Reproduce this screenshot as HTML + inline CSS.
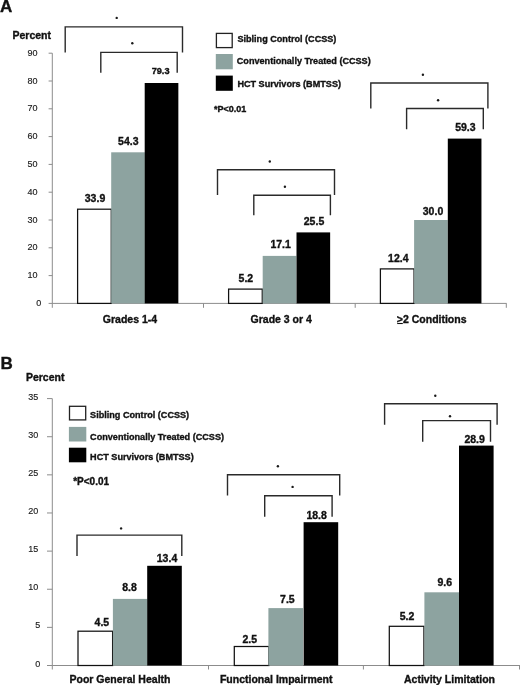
<!DOCTYPE html>
<html><head><meta charset="utf-8"><title>Chart</title>
<style>
html,body{margin:0;padding:0;background:#fff;}
body{width:520px;height:685px;overflow:hidden;}
svg{display:block;font-family:"Liberation Sans",sans-serif;will-change:transform;}
</style></head>
<body>
<svg width="520" height="685" viewBox="0 0 520 685">
<rect x="0" y="0" width="520" height="685" fill="#fff"/>
<text x="0.0" y="11.8" font-size="17" font-weight="bold" text-anchor="start" fill="#111" stroke="#111" stroke-width="0.35">A</text>
<text x="12.5" y="39.3" font-size="10.5" font-weight="bold" text-anchor="start" fill="#111" stroke="#111" stroke-width="0.35">Percent</text>
<line x1="52.3" y1="53.2" x2="52.3" y2="307.8" stroke="#8c8c8c" stroke-width="1.0"/>
<line x1="48.6" y1="303.4" x2="52.3" y2="303.4" stroke="#8c8c8c" stroke-width="1.0"/>
<text x="41.2" y="306.0" font-size="9" font-weight="normal" text-anchor="end" fill="#222" stroke="#222" stroke-width="0.15">0</text>
<line x1="48.6" y1="275.6" x2="52.3" y2="275.6" stroke="#8c8c8c" stroke-width="1.0"/>
<text x="37.5" y="278.2" font-size="9" font-weight="normal" text-anchor="end" fill="#222" stroke="#222" stroke-width="0.15">10</text>
<line x1="48.6" y1="247.8" x2="52.3" y2="247.8" stroke="#8c8c8c" stroke-width="1.0"/>
<text x="37.5" y="250.4" font-size="9" font-weight="normal" text-anchor="end" fill="#222" stroke="#222" stroke-width="0.15">20</text>
<line x1="48.6" y1="220.0" x2="52.3" y2="220.0" stroke="#8c8c8c" stroke-width="1.0"/>
<text x="37.5" y="222.6" font-size="9" font-weight="normal" text-anchor="end" fill="#222" stroke="#222" stroke-width="0.15">30</text>
<line x1="48.6" y1="192.2" x2="52.3" y2="192.2" stroke="#8c8c8c" stroke-width="1.0"/>
<text x="37.5" y="194.8" font-size="9" font-weight="normal" text-anchor="end" fill="#222" stroke="#222" stroke-width="0.15">40</text>
<line x1="48.6" y1="164.4" x2="52.3" y2="164.4" stroke="#8c8c8c" stroke-width="1.0"/>
<text x="37.5" y="167.0" font-size="9" font-weight="normal" text-anchor="end" fill="#222" stroke="#222" stroke-width="0.15">50</text>
<line x1="48.6" y1="136.6" x2="52.3" y2="136.6" stroke="#8c8c8c" stroke-width="1.0"/>
<text x="37.5" y="139.2" font-size="9" font-weight="normal" text-anchor="end" fill="#222" stroke="#222" stroke-width="0.15">60</text>
<line x1="48.6" y1="108.8" x2="52.3" y2="108.8" stroke="#8c8c8c" stroke-width="1.0"/>
<text x="37.5" y="111.4" font-size="9" font-weight="normal" text-anchor="end" fill="#222" stroke="#222" stroke-width="0.15">70</text>
<line x1="48.6" y1="81.0" x2="52.3" y2="81.0" stroke="#8c8c8c" stroke-width="1.0"/>
<text x="37.5" y="83.6" font-size="9" font-weight="normal" text-anchor="end" fill="#222" stroke="#222" stroke-width="0.15">80</text>
<line x1="48.6" y1="53.2" x2="52.3" y2="53.2" stroke="#8c8c8c" stroke-width="1.0"/>
<text x="37.5" y="55.8" font-size="9" font-weight="normal" text-anchor="end" fill="#222" stroke="#222" stroke-width="0.15">90</text>
<line x1="52.3" y1="303.4" x2="506.6" y2="303.4" stroke="#8c8c8c" stroke-width="1.0"/>
<line x1="203.5" y1="303.4" x2="203.5" y2="307.8" stroke="#8c8c8c" stroke-width="1.0"/>
<line x1="355.2" y1="303.4" x2="355.2" y2="307.8" stroke="#8c8c8c" stroke-width="1.0"/>
<line x1="506.3" y1="303.4" x2="506.3" y2="307.8" stroke="#8c8c8c" stroke-width="1.0"/>
<rect x="77.6" y="209.2" width="33.65" height="94.20" fill="#fff" stroke="#111" stroke-width="1.25"/>
<rect x="111.2" y="152.3" width="33.65" height="151.10" fill="#8da3a0"/>
<rect x="144.7" y="83.0" width="33.65" height="220.40" fill="#000"/>
<rect x="228.6" y="289.1" width="33.65" height="14.30" fill="#fff" stroke="#111" stroke-width="1.25"/>
<rect x="262.7" y="255.9" width="33.65" height="47.50" fill="#8da3a0"/>
<rect x="296.5" y="232.4" width="33.65" height="71.00" fill="#000"/>
<rect x="380.4" y="268.9" width="33.65" height="34.50" fill="#fff" stroke="#111" stroke-width="1.25"/>
<rect x="414.1" y="220.0" width="33.65" height="83.40" fill="#8da3a0"/>
<rect x="447.8" y="138.6" width="33.65" height="164.80" fill="#000"/>
<text x="95.0" y="201.9" font-size="10.5" font-weight="bold" text-anchor="middle" fill="#111" stroke="#111" stroke-width="0.35">33.9</text>
<text x="128.3" y="145.3" font-size="10.5" font-weight="bold" text-anchor="middle" fill="#111" stroke="#111" stroke-width="0.35">54.3</text>
<text x="160.6" y="74.2" font-size="9.2" font-weight="bold" text-anchor="middle" fill="#111" stroke="#111" stroke-width="0.35">79.3</text>
<text x="245.9" y="281.59999999999997" font-size="10.5" font-weight="bold" text-anchor="middle" fill="#111" stroke="#111" stroke-width="0.35">5.2</text>
<text x="280.6" y="248.4" font-size="10.5" font-weight="bold" text-anchor="middle" fill="#111" stroke="#111" stroke-width="0.35">17.1</text>
<text x="314.0" y="225.0" font-size="10.5" font-weight="bold" text-anchor="middle" fill="#111" stroke="#111" stroke-width="0.35">25.5</text>
<text x="398.3" y="261.9" font-size="10.5" font-weight="bold" text-anchor="middle" fill="#111" stroke="#111" stroke-width="0.35">12.4</text>
<text x="433.0" y="215.3" font-size="10.5" font-weight="bold" text-anchor="middle" fill="#111" stroke="#111" stroke-width="0.35">30.0</text>
<text x="465.4" y="130.9" font-size="10.5" font-weight="bold" text-anchor="middle" fill="#111" stroke="#111" stroke-width="0.35">59.3</text>
<text x="130.0" y="322.7" font-size="10.5" font-weight="bold" text-anchor="middle" fill="#111" stroke="#111" stroke-width="0.35">Grades 1-4</text>
<text x="281.2" y="322.7" font-size="10.5" font-weight="bold" text-anchor="middle" fill="#111" stroke="#111" stroke-width="0.35">Grade 3 or 4</text>
<text x="431.7" y="322.7" font-size="10.5" font-weight="bold" text-anchor="middle" fill="#111" stroke="#111" stroke-width="0.35">&gt;2 Conditions</text>
<line x1="397.2" y1="323.5" x2="402.8" y2="323.5" stroke="#111" stroke-width="1.1"/>
<path d="M65.2 52.4 L65.2 26.9 L182.5 26.9 L182.5 52.4" fill="none" stroke="#2a2a2a" stroke-width="1.4" stroke-linejoin="miter"/>
<circle cx="116.7" cy="17.9" r="1.2" fill="#1a1a1a"/>
<path d="M100.8 72.7 L100.8 52.4 L177.2 52.4 L177.2 72.7" fill="none" stroke="#2a2a2a" stroke-width="1.4" stroke-linejoin="miter"/>
<circle cx="132.3" cy="43.3" r="1.2" fill="#1a1a1a"/>
<path d="M217.5 195.0 L217.5 169.8 L334.5 169.8 L334.5 195.0" fill="none" stroke="#2a2a2a" stroke-width="1.4" stroke-linejoin="miter"/>
<circle cx="269.8" cy="161.5" r="1.2" fill="#1a1a1a"/>
<path d="M253.8 215.3 L253.8 195.2 L330.4 195.2 L330.4 215.3" fill="none" stroke="#2a2a2a" stroke-width="1.4" stroke-linejoin="miter"/>
<circle cx="284.9" cy="186.8" r="1.2" fill="#1a1a1a"/>
<path d="M370.8 108.5 L370.8 83.0 L487.9 83.0 L487.9 108.5" fill="none" stroke="#2a2a2a" stroke-width="1.4" stroke-linejoin="miter"/>
<circle cx="422.9" cy="74.8" r="1.2" fill="#1a1a1a"/>
<path d="M406.6 129.2 L406.6 108.5 L483.3 108.5 L483.3 129.2" fill="none" stroke="#2a2a2a" stroke-width="1.4" stroke-linejoin="miter"/>
<circle cx="438.1" cy="100.2" r="1.2" fill="#1a1a1a"/>
<rect x="216.4" y="33.4" width="15.80" height="14.20" fill="#fff" stroke="#222" stroke-width="1.3"/>
<rect x="215.8" y="54.0" width="17.00" height="15.30" fill="#8da3a0"/>
<rect x="215.8" y="75.6" width="17.00" height="15.20" fill="#000"/>
<text x="237.4" y="42.2" font-size="9.1" font-weight="bold" text-anchor="start" fill="#111" stroke="#111" stroke-width="0.35">Sibling Control (CCSS)</text>
<text x="236.8" y="64.2" font-size="9.1" font-weight="bold" text-anchor="start" fill="#111" stroke="#111" stroke-width="0.35">Conventionally Treated (CCSS)</text>
<text x="237.4" y="87.2" font-size="9.1" font-weight="bold" text-anchor="start" fill="#111" stroke="#111" stroke-width="0.35">HCT Survivors (BMTSS)</text>
<text x="213.9" y="111.8" font-size="9" font-weight="bold" text-anchor="start" fill="#111" stroke="#111" stroke-width="0.35">*P&lt;0.01</text>
<text x="0.6" y="368.6" font-size="17" font-weight="bold" text-anchor="start" fill="#111" stroke="#111" stroke-width="0.35">B</text>
<text x="25.9" y="380.8" font-size="10.5" font-weight="bold" text-anchor="start" fill="#111" stroke="#111" stroke-width="0.35">Percent</text>
<line x1="52.3" y1="398.6" x2="52.3" y2="669.5" stroke="#8c8c8c" stroke-width="1.0"/>
<line x1="47.0" y1="665.5" x2="52.3" y2="665.5" stroke="#8c8c8c" stroke-width="1.0"/>
<text x="40.2" y="666.6" font-size="9" font-weight="normal" text-anchor="end" fill="#222" stroke="#222" stroke-width="0.15">0</text>
<line x1="47.0" y1="627.37" x2="52.3" y2="627.37" stroke="#8c8c8c" stroke-width="1.0"/>
<text x="40.2" y="628.47" font-size="9" font-weight="normal" text-anchor="end" fill="#222" stroke="#222" stroke-width="0.15">5</text>
<line x1="47.0" y1="589.24" x2="52.3" y2="589.24" stroke="#8c8c8c" stroke-width="1.0"/>
<text x="38.3" y="590.34" font-size="9" font-weight="normal" text-anchor="end" fill="#222" stroke="#222" stroke-width="0.15">10</text>
<line x1="47.0" y1="551.11" x2="52.3" y2="551.11" stroke="#8c8c8c" stroke-width="1.0"/>
<text x="38.3" y="552.21" font-size="9" font-weight="normal" text-anchor="end" fill="#222" stroke="#222" stroke-width="0.15">15</text>
<line x1="47.0" y1="512.98" x2="52.3" y2="512.98" stroke="#8c8c8c" stroke-width="1.0"/>
<text x="38.3" y="514.08" font-size="9" font-weight="normal" text-anchor="end" fill="#222" stroke="#222" stroke-width="0.15">20</text>
<line x1="47.0" y1="474.85" x2="52.3" y2="474.85" stroke="#8c8c8c" stroke-width="1.0"/>
<text x="38.3" y="475.95" font-size="9" font-weight="normal" text-anchor="end" fill="#222" stroke="#222" stroke-width="0.15">25</text>
<line x1="47.0" y1="436.72" x2="52.3" y2="436.72" stroke="#8c8c8c" stroke-width="1.0"/>
<text x="38.3" y="437.82" font-size="9" font-weight="normal" text-anchor="end" fill="#222" stroke="#222" stroke-width="0.15">30</text>
<line x1="47.0" y1="398.59" x2="52.3" y2="398.59" stroke="#8c8c8c" stroke-width="1.0"/>
<text x="38.3" y="399.69" font-size="9" font-weight="normal" text-anchor="end" fill="#222" stroke="#222" stroke-width="0.15">35</text>
<line x1="52.3" y1="665.5" x2="520" y2="665.5" stroke="#8c8c8c" stroke-width="1.0"/>
<line x1="208.5" y1="665.5" x2="208.5" y2="669.5" stroke="#8c8c8c" stroke-width="1.0"/>
<line x1="363.4" y1="665.5" x2="363.4" y2="669.5" stroke="#8c8c8c" stroke-width="1.0"/>
<line x1="519.5" y1="665.5" x2="519.5" y2="669.5" stroke="#8c8c8c" stroke-width="1.0"/>
<rect x="78.0" y="631.2" width="34.60" height="34.30" fill="#fff" stroke="#111" stroke-width="1.25"/>
<rect x="112.9" y="598.9" width="34.60" height="66.60" fill="#8da3a0"/>
<rect x="147.2" y="565.8" width="34.60" height="99.70" fill="#000"/>
<rect x="234.3" y="646.5" width="34.60" height="19.00" fill="#fff" stroke="#111" stroke-width="1.25"/>
<rect x="268.4" y="608.1" width="34.60" height="57.40" fill="#8da3a0"/>
<rect x="303.6" y="522.2" width="34.60" height="143.30" fill="#000"/>
<rect x="389.3" y="626.3" width="34.60" height="39.20" fill="#fff" stroke="#111" stroke-width="1.25"/>
<rect x="424.4" y="592.3" width="34.60" height="73.20" fill="#8da3a0"/>
<rect x="459.0" y="445.6" width="34.60" height="219.90" fill="#000"/>
<text x="101.9" y="626.4" font-size="10.5" font-weight="bold" text-anchor="middle" fill="#111" stroke="#111" stroke-width="0.35">4.5</text>
<text x="129.6" y="591.1999999999999" font-size="10.5" font-weight="bold" text-anchor="middle" fill="#111" stroke="#111" stroke-width="0.35">8.8</text>
<text x="167.0" y="561.6999999999999" font-size="10.5" font-weight="bold" text-anchor="middle" fill="#111" stroke="#111" stroke-width="0.35">13.4</text>
<text x="249.8" y="642.6999999999999" font-size="10.5" font-weight="bold" text-anchor="middle" fill="#111" stroke="#111" stroke-width="0.35">2.5</text>
<text x="287.4" y="602.6999999999999" font-size="10.5" font-weight="bold" text-anchor="middle" fill="#111" stroke="#111" stroke-width="0.35">7.5</text>
<text x="316.6" y="519.1" font-size="10.5" font-weight="bold" text-anchor="middle" fill="#111" stroke="#111" stroke-width="0.35">18.8</text>
<text x="407.1" y="620.4" font-size="10.5" font-weight="bold" text-anchor="middle" fill="#111" stroke="#111" stroke-width="0.35">5.2</text>
<text x="444.7" y="585.5" font-size="10.5" font-weight="bold" text-anchor="middle" fill="#111" stroke="#111" stroke-width="0.35">9.6</text>
<text x="474.6" y="442.5" font-size="10.5" font-weight="bold" text-anchor="middle" fill="#111" stroke="#111" stroke-width="0.35">28.9</text>
<text x="120.0" y="682.5" font-size="10.5" font-weight="bold" text-anchor="middle" fill="#111" stroke="#111" stroke-width="0.35">Poor General Health</text>
<text x="276.2" y="682.5" font-size="10.5" font-weight="bold" text-anchor="middle" fill="#111" stroke="#111" stroke-width="0.35">Functional Impairment</text>
<text x="449.5" y="682.5" font-size="10.5" font-weight="bold" text-anchor="middle" fill="#111" stroke="#111" stroke-width="0.35">Activity Limitation</text>
<path d="M77.0 555.9 L77.0 535.1 L181.8 535.1 L181.8 555.9" fill="none" stroke="#2a2a2a" stroke-width="1.4" stroke-linejoin="miter"/>
<circle cx="121.1" cy="528.4" r="1.2" fill="#1a1a1a"/>
<path d="M227.5 495.6 L227.5 474.7 L339.7 474.7 L339.7 495.6" fill="none" stroke="#2a2a2a" stroke-width="1.4" stroke-linejoin="miter"/>
<circle cx="277.9" cy="466.3" r="1.2" fill="#1a1a1a"/>
<path d="M264.7 516.7 L264.7 495.8 L332.1 495.8 L332.1 516.7" fill="none" stroke="#2a2a2a" stroke-width="1.4" stroke-linejoin="miter"/>
<circle cx="292.6" cy="486.9" r="1.2" fill="#1a1a1a"/>
<path d="M384.6 424.8 L384.6 403.8 L497.1 403.8 L497.1 424.8" fill="none" stroke="#2a2a2a" stroke-width="1.4" stroke-linejoin="miter"/>
<circle cx="435.3" cy="395.8" r="1.2" fill="#1a1a1a"/>
<path d="M422.7 441.7 L422.7 420.6 L490.5 420.6 L490.5 441.7" fill="none" stroke="#2a2a2a" stroke-width="1.4" stroke-linejoin="miter"/>
<circle cx="450.0" cy="416.2" r="1.2" fill="#1a1a1a"/>
<rect x="69.5" y="406.3" width="16.20" height="13.60" fill="#fff" stroke="#222" stroke-width="1.3"/>
<rect x="68.9" y="426.9" width="17.40" height="14.60" fill="#8da3a0"/>
<rect x="68.9" y="447.7" width="17.40" height="14.60" fill="#000"/>
<text x="90.1" y="417.7" font-size="9.1" font-weight="bold" text-anchor="start" fill="#111" stroke="#111" stroke-width="0.35">Sibling Control (CCSS)</text>
<text x="90.1" y="439.7" font-size="9.1" font-weight="bold" text-anchor="start" fill="#111" stroke="#111" stroke-width="0.35">Conventionally Treated (CCSS)</text>
<text x="90.1" y="460.3" font-size="9.1" font-weight="bold" text-anchor="start" fill="#111" stroke="#111" stroke-width="0.35">HCT Survivors (BMTSS)</text>
<text x="73.2" y="484.6" font-size="10" font-weight="bold" text-anchor="start" fill="#111" stroke="#111" stroke-width="0.35">*P&lt;0.01</text>
</svg>
</body></html>
